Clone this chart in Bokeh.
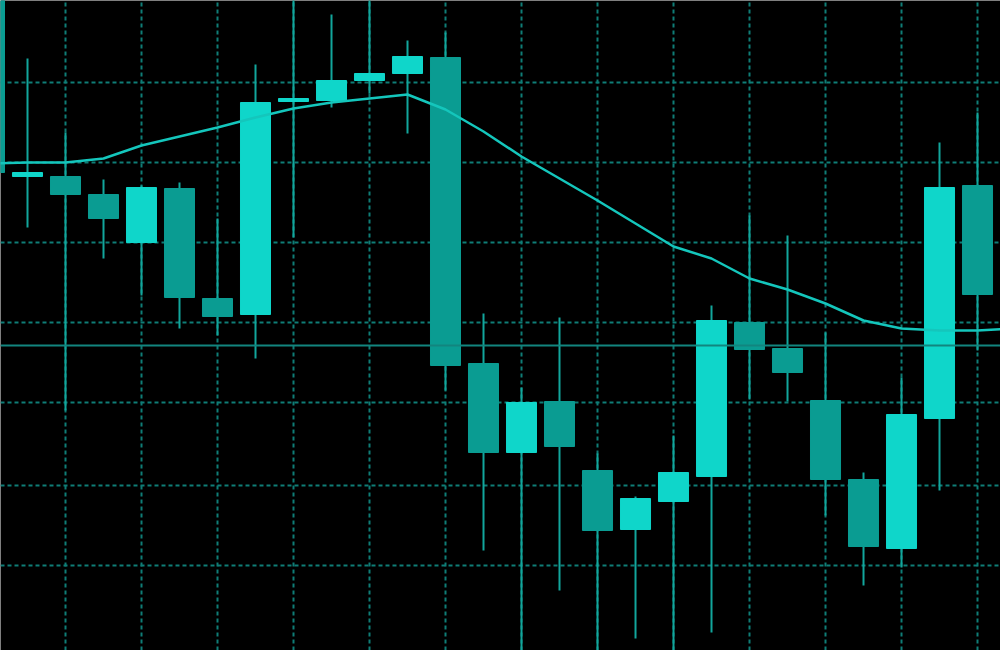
from bokeh.plotting import figure
from bokeh.models import Range1d, FixedTicker, Span, ColumnDataSource
from bokeh.embed import file_html
from bokeh.resources import INLINE

# Candle data (price units, arbitrary scale)
idx = list(range(0, 27))
opens = [680, 474, 474, 456, 408, 462, 352, 336, 549, 550, 570, 577, 593, 287, 198, 249, 180, 121, 149, 174, 328, 302, 250, 171, 102, 232, 465]
closes = [478, 478, 456, 432, 463, 353, 334, 548, 552, 570, 577, 594, 285, 198, 248, 204, 120, 152, 178, 330, 301, 278, 171, 104, 236, 463, 356]
highs = [690, 592, 518, 471, 465, 468, 432, 586, 660, 636, 660, 610, 618, 337, 263, 333, 197, 154, 215, 345, 435, 415, 318, 178, 273, 508, 538]
lows = [470, 423, 240, 392, 355, 322, 315, 292, 413, 543, 557, 517, 260, 100, -10, 60, -10, 12, -10, 18, 251, 249, 135, 65, 83, 160, 300]

ma_idx = list(range(0, 28))
ma_vals = [487, 488, 488, 492, 505, 514, 523, 533, 542, 548, 552, 556, 541, 519, 494, 472, 450, 427, 404, 392, 372, 361, 347, 330, 322, 320, 320, 322]

level = 305
grid_x = [2, 4, 6, 8, 10, 12, 14, 16, 18, 20, 22, 24, 26]
grid_y = [568, 488, 408, 328, 248, 165, 85]

bright = "#0fd6ca"
dark = "#0a9c92"
wick = "#12a69c"

up = [c >= o for o, c in zip(opens, closes)]
src = ColumnDataSource(dict(
    x=idx, top=[max(o, c) for o, c in zip(opens, closes)],
    bottom=[min(o, c) for o, c in zip(opens, closes)],
    high=highs, low=lows,
    color=[bright if u else dark for u in up],
))

p = figure(width=1000, height=650, output_backend="svg", toolbar_location=None,
           x_range=Range1d(0.2895, 26.605), y_range=Range1d(0, 650),
           background_fill_color="black", border_fill_color="black",
           min_border=0, outline_line_color=None)

p.xaxis.ticker = FixedTicker(ticks=grid_x)
p.yaxis.ticker = FixedTicker(ticks=grid_y)
p.axis.visible = False
for g in (p.xgrid, p.ygrid):
    g.grid_line_color = "#0f7d76"
    g.grid_line_dash = "4 3"
    g.grid_line_width = 2

p.add_layout(Span(location=level, dimension="width", line_color="#12857f", line_width=2))

p.segment(x0="x", y0="high", x1="x", y1="low", source=src, line_color=wick, line_width=2)
p.vbar(x="x", top="top", bottom="bottom", width=0.79, source=src,
       fill_color="color", line_color="color")

p.line(ma_idx, ma_vals, line_color="#14c6bc", line_width=2.5)

open("out.html", "w").write(file_html(p, INLINE))
